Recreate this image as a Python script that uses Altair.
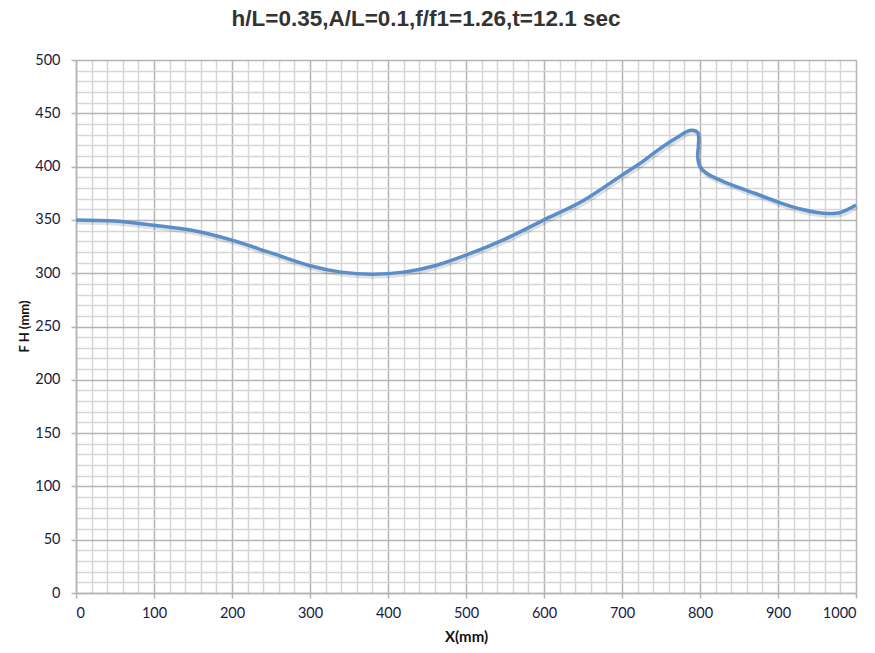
import altair as alt
import pandas as pd

# Free-surface elevation along the tank
x_mm = [0, 50, 100, 150, 200, 250, 300, 340, 380, 420, 460, 500, 550, 600,
        650, 700, 723, 745, 770, 788, 797, 798, 797, 800, 808, 830, 870, 903,
        930, 950, 965, 980, 1000]
fh_mm = [350, 349, 345, 340, 331, 319, 307, 301, 299, 301, 307, 317, 332, 350,
         368, 392, 403, 415, 427, 434, 432, 420, 410, 400, 394, 386, 375, 366,
         360, 357, 356, 357, 364]

x_major = list(range(0, 1001, 100))
y_major = list(range(0, 501, 50))
x_minor = [v for v in range(0, 1001, 20) if v % 100]
y_minor = [v for v in range(0, 501, 10) if v % 50]

df = pd.DataFrame({"x": x_mm, "fh": fh_mm, "seq": list(range(len(x_mm)))})

label_font = "Lato"
grid_major = "#b4b4b4"
grid_minor = "#d6d6d6"

x_scale = alt.Scale(domain=[0, 1000], nice=False, zero=False)
y_scale = alt.Scale(domain=[0, 500], nice=False, zero=False)

base = alt.Chart(df)

# Light minor grid (carried by a faint shadow of the profile)
minor = base.mark_line(
    interpolate="catmull-rom", color="#000000", opacity=0.12,
    strokeWidth=5, xOffset=1, yOffset=2
).encode(
    x=alt.X("x:Q", scale=x_scale, axis=alt.Axis(
        orient="bottom", values=x_minor, grid=True, gridColor=grid_minor,
        gridWidth=1.5, labels=False, ticks=False, domain=False, title=None)),
    y=alt.Y("fh:Q", scale=y_scale, axis=alt.Axis(
        orient="left", values=y_minor, grid=True, gridColor=grid_minor,
        gridWidth=1.5, labels=False, ticks=False, domain=False, title=None)),
    order="seq:Q",
)

# Main profile with labelled major grid
major = base.mark_line(
    interpolate="catmull-rom", color="#5a8ec9", strokeWidth=3.5
).encode(
    x=alt.X("x:Q", scale=x_scale, axis=alt.Axis(
        orient="bottom", values=x_major, format="d", grid=True,
        gridColor=grid_major, gridWidth=1.5, tickColor=grid_major,
        tickSize=5, tickWidth=1.5, domainColor=grid_major, domainWidth=1.5,
        labelFont=label_font, labelFontSize=14.5, labelColor="#1a2040",
        labelPadding=8, title="X(mm)", titleFont=label_font,
        titleFontSize=15, titleFontWeight="bold", titleColor="#111111",
        titlePadding=10)),
    y=alt.Y("fh:Q", scale=y_scale, axis=alt.Axis(
        orient="left", values=y_major, format="d", grid=True,
        gridColor=grid_major, gridWidth=1.5, tickColor=grid_major,
        tickSize=5, tickWidth=1.5, domainColor=grid_major, domainWidth=1.5,
        labelFont=label_font, labelFontSize=14.5, labelColor="#1a2040",
        labelPadding=11, title="F H (mm)", titleFont=label_font,
        titleFontSize=13, titleFontWeight="bold", titleColor="#111111",
        titleX=-52, titleY=266, titleAlign="center", titleBaseline="middle")),
    order="seq:Q",
)

chart = alt.layer(minor, major).resolve_axis(
    x="independent", y="independent"
).properties(
    width=780,
    height=533,
    autosize=alt.AutoSizeParams(type="none"),
    padding={"left": 76, "top": 60, "right": 19, "bottom": 60},
    title=alt.TitleParams(
        "h/L=0.35,A/L=0.1,f/f1=1.26,t=12.1 sec",
        font="Liberation Sans", fontSize=22.5, fontWeight="bold",
        color="#333333", anchor="middle", dx=-40, offset=22,
    ),
).configure_view(
    stroke=grid_major, strokeWidth=1.5
).configure(background="white")

chart.save("out.html", embed_options={"renderer": "svg", "actions": False})
